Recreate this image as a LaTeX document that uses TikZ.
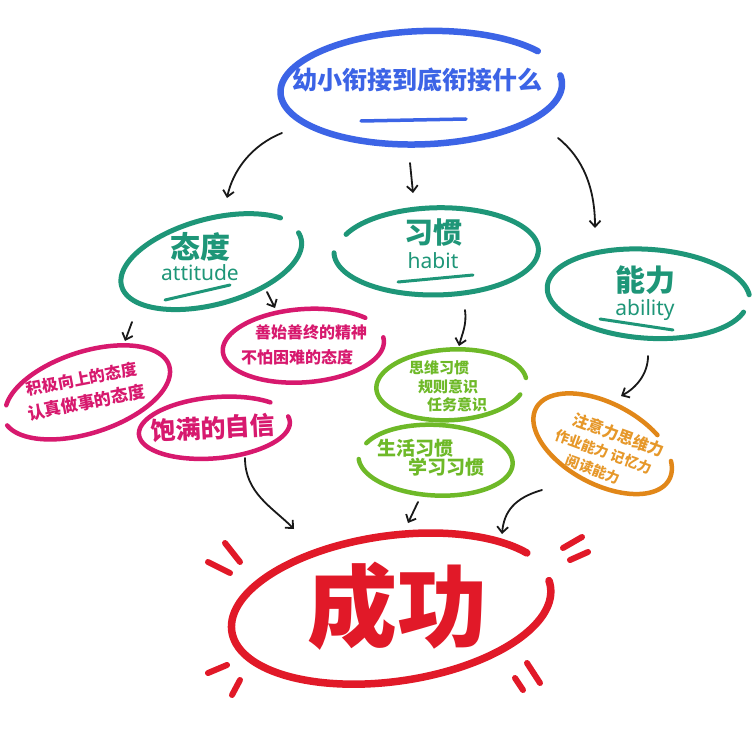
\documentclass[tikz,border=0pt]{standalone}
\usepackage{fontspec}
\newfontfamily\cjk{Noto Sans CJK SC}
\newfontfamily\latinsans{Noto Sans}
\usetikzlibrary{arrows.meta}
\definecolor{tblue}{HTML}{3C64E6}
\definecolor{tteal}{HTML}{1E9678}
\definecolor{tpink}{HTML}{D7196E}
\definecolor{tgreen}{HTML}{6EB928}
\definecolor{torange}{HTML}{E18719}
\definecolor{torangetext}{HTML}{E6982A}
\definecolor{tred}{HTML}{E11928}
% #1 style, #2 cx, #3 cy, #4 rx, #5 ry, #6 rotation, #7 start, #8 end, #9 growth
\newcommand{\handloop}[9]{%
  \draw[#1] plot[domain=#7:#8, samples=120, smooth, variable=\t]
  ({#2 + (1+#9*(\t-(#7))/(#8-(#7)))*((#4)*cos(\t)*cos(#6) - (#5)*sin(\t)*sin(#6))},
   {#3 + (1+#9*(\t-(#7))/(#8-(#7)))*((#4)*cos(\t)*sin(#6) + (#5)*sin(\t)*cos(#6))});}
\begin{document}
\begin{tikzpicture}[x=1pt,y=-1pt, line cap=round, line join=round,
  arr/.style={draw=black!90, line width=1.8pt, -{Straight Barb[length=6pt,width=11pt]}},
  fs/.style={font=\cjk\bfseries\fontsize{#1}{#1}\selectfont, inner sep=0pt},
  lat/.style={font=\latinsans\fontsize{#1}{#1}\selectfont, inner sep=0pt, anchor=base},
  mark line/.style={line width=3.5pt}]
\useasboundingbox[fill=white] (0,0) rectangle (752,749);

% ---------- title ----------
\handloop{tblue, line width=6.5pt}{422}{88}{140}{56}{-2}{-8}{325}{0.02}
\node[fs=25, text=tblue] (title) at (417,80) {幼小衔接到底衔接什么};
\draw[tblue, mark line] (361,121) -- (466,119);

% ---------- three categories ----------
\handloop{tteal, line width=5pt}{212}{262}{92}{42}{-15}{-8}{325}{0.03}
\node[fs=30, text=tteal] (att) at (200,247) {态度};
\node[lat=21, text=tteal] (atten) at (200,280) {attitude};
\draw[tteal, line width=3pt] (165,300) -- (230,285);

\handloop{tteal, line width=5pt}{437}{251}{100}{43}{-1}{-155}{180}{0.03}
\node[fs=29, text=tteal] (hab) at (433,233) {习惯};
\node[lat=21, text=tteal] (haben) at (433,268) {habit};
\draw[tteal, line width=3pt] (398,282) -- (473,275);

\handloop{tteal, line width=5pt}{648}{294}{100}{44}{4}{15}{352}{0.02}
\node[fs=30, text=tteal] (abi) at (645,280) {能力};
\node[lat=21, text=tteal] (abien) at (645,315) {ability};
\draw[tteal, line width=3pt] (600,319) -- (673,330);

% ---------- attitude items ----------
\handloop{tpink, line width=4.5pt}{87}{392}{85}{40}{-18}{198}{530}{0.03}
\node[font=\cjk\bfseries\fontsize{16}{24}\selectfont, inner sep=0pt, align=center,
      text=tpink, rotate=11] (p1) at (84,391)
  {积极向上的态度\\{\fontsize{17}{24}\selectfont 认真做事的态度}};

\handloop{tpink, line width=4.5pt}{304}{346}{80}{36}{-4}{-5}{320}{0.03}
\node[fs=16, text=tpink] (p2a) at (311,332) {善始善终的精神};
\node[fs=16, text=tpink] (p2b) at (297,357) {不怕困难的态度};

\handloop{tpink, line width=4.5pt}{215}{428}{75}{30}{-5}{-10}{318}{0.03}
\node[fs=25, text=tpink, rotate=3] (p3) at (213,428) {饱满的自信};

% ---------- habit items ----------
\handloop{tgreen, line width=4.5pt}{451}{385}{74}{35}{-3}{22}{355}{0.02}
\node[fs=15, text=tgreen] (g1a) at (439,368) {思维习惯};
\node[fs=15, text=tgreen] (g1b) at (448,387) {规则意识};
\node[fs=15, text=tgreen] (g1c) at (457,405) {任务意识};

\handloop{tgreen, line width=4.5pt}{436}{460}{76}{35}{3}{-158}{175}{0.02}
\node[fs=19, text=tgreen] (g2a) at (415,448) {生活习惯};
\node[fs=19, text=tgreen] (g2b) at (446,467) {学习习惯};

% ---------- ability items ----------
\handloop{torange, line width=4.5pt}{603}{444}{75}{40}{28}{-25}{305}{0.02}
\node[font=\cjk\bfseries\fontsize{14}{20}\selectfont, inner sep=0pt, align=center,
      text=torangetext, rotate=-20] (orng) at (604,451)
  {{\fontsize{16}{20}\selectfont\hspace*{16pt}注意力思维力}\\作业能力 记忆力\\阅读能力\hspace*{8pt}};

% ---------- success ----------
\handloop{tred, line width=7.5pt}{392}{609}{160}{72}{-8}{-5}{330}{0.02}
\node[fs=90, text=tred] (succ) at (397,606) {成功};
\begin{scope}[tred, line width=6pt]
  \draw (225,543) -- (240,562);
  \draw (208,562) -- (230,573);
  \draw (208,673) -- (227,665);
  \draw (232,695) -- (240,680);
  \draw (515,678) -- (523,690);
  \draw (527,663) -- (540,683);
  \draw (563,548) -- (582,537);
  \draw (570,560) -- (588,552);
\end{scope}

% ---------- connectors ----------
\coordinate (a1s) at (282,133); \coordinate (a1e) at (227,198);
\coordinate (a2s) at (410,163); \coordinate (a2e) at (413,193);
\coordinate (a3s) at (558,138); \coordinate (a3e) at (595,228);
\coordinate (a4s) at (132,322); \coordinate (a4e) at (125,341);
\coordinate (a5s) at (267,292); \coordinate (a5e) at (275,308);
\coordinate (a6s) at (465,310); \coordinate (a6e) at (459,346);
\coordinate (a7s) at (648,356); \coordinate (a7e) at (621,396);
\coordinate (a8s) at (245,458); \coordinate (a8e) at (294,529);
\coordinate (a9s) at (418,502); \coordinate (a9e) at (408,523);
\coordinate (a10s) at (542,490); \coordinate (a10e) at (502,534);

\draw[arr] (a1s) .. controls +(-30,12) and +(6,-28) .. (a1e);
\draw[arr] (a2s) -- (a2e);
\draw[arr] (a3s) .. controls +(25,20) and +(0,-40) .. (a3e);
\draw[arr] (a4s) -- (a4e);
\draw[arr] (a5s) -- (a5e);
\draw[arr] (a6s) .. controls +(2,15) and +(3,-12) .. (a6e);
\draw[arr] (a7s) .. controls +(0,18) and +(15,-8) .. (a7e);
\draw[arr] (a8s) .. controls +(0,35) and +(-22,-22) .. (a8e);
\draw[arr] (a9s) -- (a9e);
\draw[arr] (a10s) .. controls +(-28,8) and +(2,-22) .. (a10e);
\end{tikzpicture}
\end{document}
